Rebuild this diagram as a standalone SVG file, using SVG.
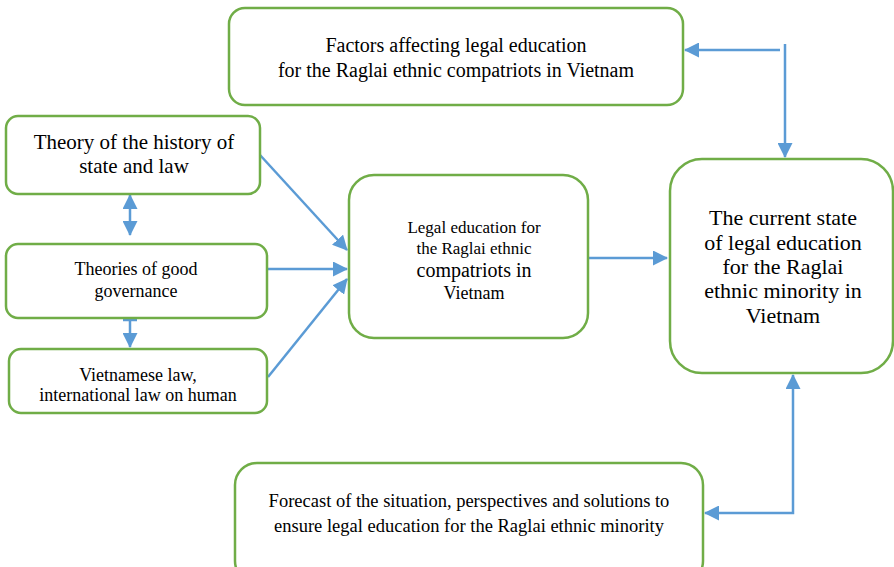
<svg xmlns="http://www.w3.org/2000/svg" width="894" height="567" viewBox="0 0 894 567">
<style>
.box{fill:#fff;stroke:#70AD47;stroke-width:2.5}
.c{fill:none;stroke:#5B9BD5;stroke-width:2.5}
text{fill:#000;text-anchor:middle}
</style>
<defs>
<marker id="ah" markerUnits="userSpaceOnUse" markerWidth="15" markerHeight="15" refX="14" refY="7.5" orient="auto-start-reverse" viewBox="0 0 15 15">
<path d="M0,0 L15,7.5 L0,15 z" fill="#5B9BD5"/>
</marker>
</defs>
<rect width="894" height="567" fill="#fff"/>
<g id="connectors">
<path class="c" d="M130,195 V235" marker-start="url(#ah)" marker-end="url(#ah)"/>
<path class="c" d="M130,320 V347" marker-end="url(#ah)"/>
<path class="c" d="M123,320 H137"/>
<path class="c" d="M260,155 L347,250" marker-end="url(#ah)"/>
<path class="c" d="M268,269 H347" marker-end="url(#ah)"/>
<path class="c" d="M268,377 L347,279" marker-end="url(#ah)"/>
<path class="c" d="M589,258 H667" marker-end="url(#ah)"/>
<path class="c" d="M780,50 H685" marker-end="url(#ah)"/>
<path class="c" d="M785,44 V157" marker-end="url(#ah)"/>
<path class="c" d="M705,513 H793 V375" marker-start="url(#ah)" marker-end="url(#ah)"/>
</g>
<g font-family="Liberation Serif, DejaVu Serif, serif">
<g id="factors">
<rect class="box" x="229" y="8" width="454" height="97" rx="16"/>
<text x="456" y="52" font-size="20">Factors affecting legal education</text>
<text x="456" y="77" font-size="20">for the Raglai ethnic compatriots in Vietnam</text>
</g>
<g id="theory">
<rect class="box" x="6" y="116" width="254" height="78" rx="12"/>
<text x="134" y="149" font-size="21">Theory of the history of</text>
<text x="134" y="173" font-size="21">state and law</text>
</g>
<g id="governance">
<rect class="box" x="6" y="244" width="261" height="74" rx="12"/>
<text x="136" y="275" font-size="18">Theories of good</text>
<text x="136" y="297" font-size="18">governance</text>
</g>
<g id="vnlaw">
<rect class="box" x="9" y="349" width="258" height="64" rx="12"/>
<text x="138" y="381" font-size="18">Vietnamese law,</text>
<text x="138" y="401" font-size="18">international law on human</text>
</g>
<g id="legal">
<rect class="box" x="349" y="175" width="239" height="163" rx="25"/>
<text x="474" y="233" font-size="17">Legal education for</text>
<text x="474" y="254" font-size="17">the Raglai ethnic</text>
<text x="474" y="277" font-size="20">compatriots in</text>
<text x="474" y="299" font-size="18">Vietnam</text>
</g>
<g id="current">
<rect class="box" x="670" y="159" width="223" height="214" rx="32"/>
<text x="783" y="225" font-size="22">The current state</text>
<text x="783" y="250" font-size="22">of legal education</text>
<text x="783" y="274" font-size="22">for the Raglai</text>
<text x="783" y="298" font-size="22">ethnic minority in</text>
<text x="783" y="323" font-size="22">Vietnam</text>
</g>
<g id="forecast">
<rect class="box" x="235" y="463" width="468" height="120" rx="22"/>
<text x="469" y="507" font-size="18.5">Forecast of the situation, perspectives and solutions to</text>
<text x="469" y="532" font-size="18.5">ensure legal education for the Raglai ethnic minority</text>
</g>
</g>
</svg>
